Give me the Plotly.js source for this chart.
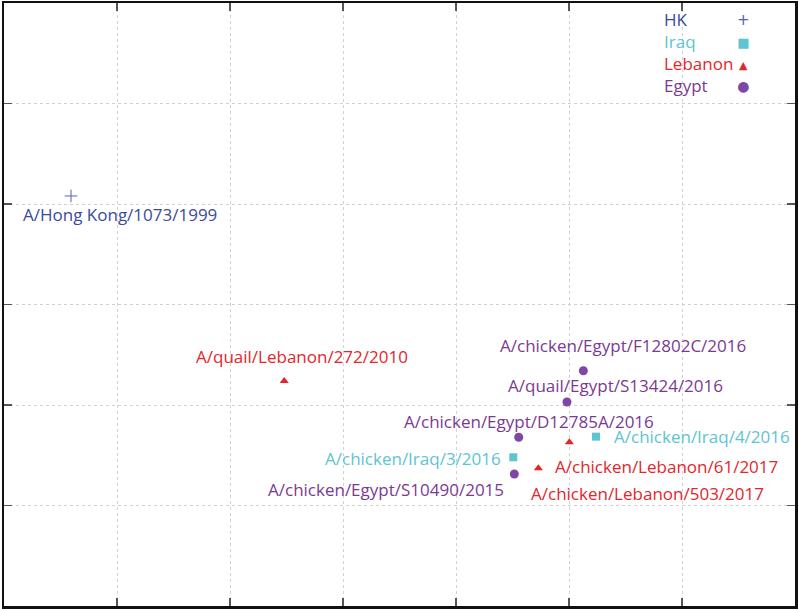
<!DOCTYPE html>
<html>
<head>
<meta charset="utf-8">
<script src="https://cdn.plot.ly/plotly-3.0.1.min.js"></script>
<style>html,body{margin:0;padding:0;background:#fff;}#chart{width:799px;height:611px;}</style>
</head>
<body>
<div id="chart"></div>
<script>
// ---- data ----
const hkX = [0.593];
const hkY = [4.08];
const hkNames = ["A/Hong Kong/1073/1999"];

const iraqX = [5.239, 4.507];
const iraqY = [1.685, 1.480];
const iraqNames = ["A/chicken/Iraq/4/2016", "A/chicken/Iraq/3/2016"];

const lebanonX = [2.480, 5.003, 4.729];
const lebanonY = [2.239, 1.630, 1.370];
const lebanonNames = ["A/quail/Lebanon/272/2010", "A/chicken/Lebanon/503/2017", "A/chicken/Lebanon/61/2017"];

const egyptX = [5.127, 4.982, 4.555, 4.516];
const egyptY = [2.341, 2.030, 1.679, 1.313];
const egyptNames = ["A/chicken/Egypt/F12802C/2016", "A/quail/Egypt/S13424/2016", "A/chicken/Egypt/D12785A/2016", "A/chicken/Egypt/S10490/2015"];

const legendLabels = ["HK", "Iraq", "Lebanon", "Egypt"];
const legendSymbols = ["+", "■", "▲", "●"];

// ---- styling ----
const FONT = "Open Sans, sans-serif";
const colors = {hk: "#3a4a9c", iraq: "#5ec4d0", lebanon: "#e3262b", egypt: "#7b3a92"};
const markerColors = {hk: "#5861b0", iraq: "#5ec4d0", lebanon: "#e3262b", egypt: "#7e47a6"};

// label placement: [xanchor, xshift, yshift]
const hkPlace = [["center", 49, -19]];
const iraqPlace = [["left", 16, 0], ["right", -10, -1]];
const lebanonPlace = [["center", 18, 24], ["center", 78, -51], ["left", 15, 2]];
const egyptPlace = [["center", 40, 25], ["center", 49, 16], ["center", 10, 16], ["right", -8, -15]];

function trace(x, y, color, symbol, size, lineW) {
  return {
    type: "scatter", mode: "markers", x: x, y: y, showlegend: false, hoverinfo: "skip",
    marker: {color: color, symbol: symbol, size: size, line: {width: lineW || 0, color: color}}
  };
}
const data = [
  trace(hkX, hkY, markerColors.hk, "cross-thin", 9, 1),
  trace(iraqX, iraqY, markerColors.iraq, "square", 8),
  trace(lebanonX, lebanonY, markerColors.lebanon, "triangle-up", 8),
  trace(egyptX, egyptY, markerColors.egypt, "circle", 9)
];

const annotations = [];
function addLabels(xs, ys, names, place, color) {
  xs.forEach((x, i) => {
    annotations.push({
      x: x, y: ys[i], xref: "x", yref: "y", text: names[i], showarrow: false,
      xanchor: place[i][0], yanchor: "middle", xshift: place[i][1], yshift: place[i][2],
      font: {family: FONT, size: 17, color: color}
    });
  });
}
addLabels(hkX, hkY, hkNames, hkPlace, colors.hk);
addLabels(iraqX, iraqY, iraqNames, iraqPlace, colors.iraq);
addLabels(lebanonX, lebanonY, lebanonNames, lebanonPlace, colors.lebanon);
addLabels(egyptX, egyptY, egyptNames, egyptPlace, colors.egypt);

// legend (text column left, symbol column right)
const legColors = [colors.hk, colors.iraq, colors.lebanon, colors.egypt];
const legSymColors = [markerColors.hk, markerColors.iraq, markerColors.lebanon, markerColors.egypt];
const legSymSize = [15, 13, 11, 14];
const legText = legendLabels.map((lab, i) => '<span style="color:' + legColors[i] + '">' + lab + '</span>').join("<br>");
const legSym = legendSymbols.map((s, i) => '<span style="color:' + legSymColors[i] + ';font-size:' + legSymSize[i] + 'px">' + s + '</span>').join("<br>");
annotations.push({
  xref: "paper", yref: "paper", x: (663 - 4) / 791, y: 1 - (53 - 3) / 603,
  xanchor: "left", yanchor: "middle", showarrow: false, align: "left", text: legText,
  font: {family: FONT, size: 17, color: colors.hk}, borderpad: 0
});
annotations.push({
  xref: "paper", yref: "paper", x: (743 - 4) / 791, y: 1 - (53 - 3) / 603,
  xanchor: "center", yanchor: "middle", showarrow: false, align: "center", text: legSym,
  font: {family: "DejaVu Sans, sans-serif", size: 17, color: colors.hk}, borderpad: 0
});

const axisCommon = {
  showticklabels: false, ticks: "inside", ticklen: 8, tickwidth: 1.5, tickcolor: "#555",
  showgrid: true, gridcolor: "#d2d2d2", griddash: "dot", gridwidth: 1,
  showline: true, linecolor: "#111", linewidth: 2.5, mirror: "ticks",
  zeroline: false, dtick: 1, tick0: 0, fixedrange: true
};

const layout = {
  width: 799, height: 611,
  margin: {l: 4, r: 4, t: 3, b: 5, pad: 0},
  paper_bgcolor: "#ffffff", plot_bgcolor: "#ffffff",
  xaxis: Object.assign({}, axisCommon, {range: [0, 7]}),
  yaxis: Object.assign({}, axisCommon, {range: [0, 6]}),
  annotations: annotations,
  showlegend: false
};

Plotly.newPlot("chart", data, layout, {staticPlot: true, displayModeBar: false});
</script>
</body>
</html>
